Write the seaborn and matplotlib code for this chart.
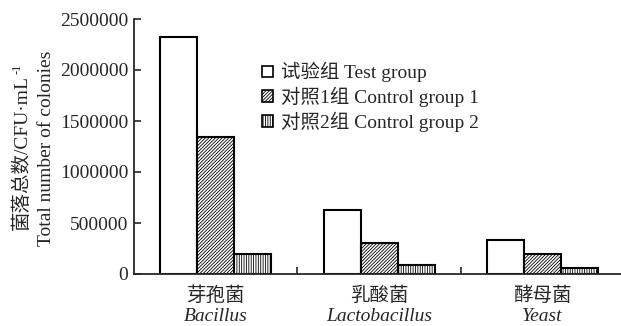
import pandas as pd
import seaborn as sns
from matplotlib import pyplot as plt
from matplotlib.patches import Patch

# values
categories_cn = ["芽孢菌", "乳酸菌", "酵母菌"]
categories_en = ["Bacillus", "Lactobacillus", "Yeast"]
groups = ["试验组 Test group", "对照1组 Control group 1", "对照2组 Control group 2"]
test_group = [2320000, 630000, 335000]
control_group_1 = [1345000, 305000, 200000]
control_group_2 = [195000, 92000, 62000]
hatches = ["", "//////////", "|||||||"]

sns.set_style("ticks")
plt.rcParams["font.family"] = ["Liberation Serif", "Noto Sans CJK SC", "DejaVu Sans"]
plt.rcParams["font.size"] = 14
plt.rcParams["hatch.linewidth"] = 0.6
plt.rcParams["axes.linewidth"] = 1.3

rows = []
for g, vals in zip(groups, [test_group, control_group_1, control_group_2]):
    for c, v in zip(categories_en, vals):
        rows.append({"category": c, "group": g, "count": v})
df = pd.DataFrame(rows)

fig = plt.figure(figsize=(6.21, 3.26), dpi=100)
ax = fig.add_axes([134 / 621, 1 - 274 / 326, 1 - 134 / 621, (274 - 19) / 326])

sns.barplot(
    data=df,
    x="category",
    y="count",
    hue="group",
    hue_order=groups,
    order=categories_en,
    palette=["white"] * 3,
    edgecolor="black",
    linewidth=1.5,
    width=0.68,
    legend=False,
    ax=ax,
)
for cont, h in zip(ax.containers, hatches):
    for bar in cont:
        bar.set_hatch(h)

ax.set_xlim(-0.5, 2.48)
ax.set_ylim(0, 2500000)
ax.set_yticks([0, 500000, 1000000, 1500000, 2000000, 2500000])
ax.set_yticklabels(["0", "500000", "1000000", "1500000", "2000000", "2500000"])
ax.set_xticks([0.5, 1.5])
ax.set_xticklabels([])
ax.tick_params(axis="both", direction="in", length=5, width=1.2, pad=4)
ax.set_xlabel("")
ax.set_ylabel("")
sns.despine(ax=ax)

# two-line y label, the unit exponent as a small raised text
t_cn = fig.text(22 / 621, 1 - 152 / 326, "菌落总数/CFU·mL", rotation=90, ha="center", va="center")
fig.text(47 / 621, 1 - 148 / 326, "Total number of colonies", rotation=90, ha="center", va="center")
fig.canvas.draw()
bb = t_cn.get_window_extent()
fig.text(bb.x0 - 1, bb.y1 + 1, "-1", rotation=90, ha="left", va="bottom", fontsize=9,
         transform=None)

trans = ax.get_xaxis_transform()
for i, (cn, en) in enumerate(zip(categories_cn, categories_en)):
    ax.text(i, -0.086, cn, transform=trans, ha="center", va="center")
    ax.text(i, -0.168, en, transform=trans, ha="center", va="center", style="italic")

handles = [Patch(facecolor="white", edgecolor="black", hatch=h, linewidth=1.2) for h in hatches]
ax.legend(
    handles,
    groups,
    loc="upper left",
    bbox_to_anchor=(262 / 621, 1 - 62 / 326),
    bbox_transform=fig.transFigure,
    frameon=False,
    handlelength=0.55,
    handleheight=0.55,
    handletextpad=0.45,
    labelspacing=0.22,
    borderaxespad=0,
    borderpad=0,
)

plt.savefig("out.png", dpi=100)
plt.close()
